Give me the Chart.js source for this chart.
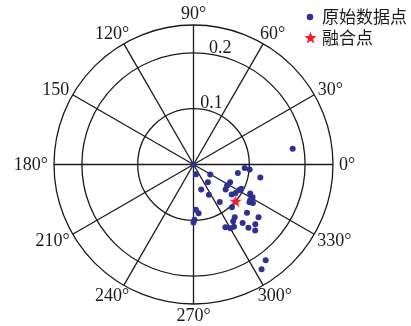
<!DOCTYPE html>
<html>
<head>
<meta charset="utf-8">
<script src="https://cdn.jsdelivr.net/npm/chart.js@4.4.1/dist/chart.umd.min.js"></script>
<style>
  body { margin: 0; background: #fff; }
  canvas { display: block; }
</style>
</head>
<body>
<canvas id="canvas" width="411" height="326"></canvas>
<script>
// polar data: radius and angle (degrees)
const rawRadius = [0.180, 0.000, 0.018, 0.035, 0.041, 0.047, 0.061, 0.082, 0.092, 0.101,
  0.081, 0.122, 0.073, 0.071, 0.073, 0.087, 0.091, 0.094, 0.096, 0.114,
  0.121, 0.121, 0.127, 0.103, 0.129, 0.150, 0.120, 0.124, 0.137, 0.154,
  0.133, 0.126, 0.132, 0.150, 0.162, 0.081, 0.088, 0.099, 0.104, 0.215,
  0.224, 0.120];
const rawAngle = [9, 0, 284, 329, 309, 287, 297, 305, 356, 355,
  349, 349, 334, 328, 322, 322, 326, 331, 333, 333,
  331, 326, 327, 312, 318, 321, 308, 305, 310, 316,
  303, 297, 300, 311, 313, 273, 276, 271, 270, 307,
  303, 328];
const fusedRadius = [0.100];
const fusedAngle = [319];

const seriesNames = ['原始数据点', '融合点'];
const angleTicks = [0, 30, 60, 90, 120, 150, 180, 210, 240, 270, 300, 330];
const angleLabels = ['0°', '30°', '60°', '90°', '120°', '150', '180°', '210°', '240°', '270°', '300°', '330°'];
const ringTicks = [0.1, 0.2];
const ringLabels = ['0.1', '0.2'];
const rMax = 0.25;

const blue = '#2e3192';
const red = '#ee1c25';

function toXY(r, a) {
  return r.map((v, i) => ({
    x: v * Math.cos(a[i] * Math.PI / 180),
    y: v * Math.sin(a[i] * Math.PI / 180)
  }));
}

// filled five point star as point style
function makeStar(size, color) {
  const c = document.createElement('canvas');
  c.width = size; c.height = size;
  const g = c.getContext('2d');
  const cx = size / 2, cy = size / 2 + size * 0.05;
  const ro = size / 2, ri = ro * 0.4;
  g.beginPath();
  for (let i = 0; i < 10; i++) {
    const rr = i % 2 === 0 ? ro : ri;
    const t = -Math.PI / 2 + i * Math.PI / 5;
    g.lineTo(cx + rr * Math.cos(t), cy + rr * Math.sin(t));
  }
  g.closePath();
  g.fillStyle = color;
  g.fill();
  return c;
}
const star = makeStar(13, red);

const polarGrid = {
  id: 'polarGrid',
  beforeDatasetsDraw(chart) {
    const { ctx, scales: { x, y } } = chart;
    const cx = x.getPixelForValue(0), cy = y.getPixelForValue(0);
    const unit = x.getPixelForValue(1) - cx;
    ctx.save();
    ctx.strokeStyle = '#1a1a1a';
    ctx.lineWidth = 1.3;
    [...ringTicks, rMax].forEach(r => {
      ctx.beginPath();
      ctx.arc(cx, cy, r * unit, 0, Math.PI * 2);
      ctx.stroke();
    });
    angleTicks.forEach(a => {
      const t = a * Math.PI / 180;
      ctx.beginPath();
      ctx.moveTo(cx, cy);
      ctx.lineTo(x.getPixelForValue(rMax * Math.cos(t)), y.getPixelForValue(rMax * Math.sin(t)));
      ctx.stroke();
    });
    ctx.fillStyle = '#1a1a1a';
    ctx.font = '18px "Liberation Serif", "Times New Roman", serif';
    ctx.textAlign = 'center';
    ctx.textBaseline = 'middle';
    angleTicks.forEach((a, i) => {
      const t = a * Math.PI / 180;
      const d = rMax * unit + 5;
      const w = ctx.measureText(angleLabels[i]).width;
      const lx = cx + d * Math.cos(t) + (w / 2 + 1) * Math.cos(t);
      const ly = cy - d * Math.sin(t) - 6.5 * Math.sin(t) + 1;
      ctx.fillText(angleLabels[i], lx, ly);
    });
    ctx.textAlign = 'left';
    ctx.textBaseline = 'alphabetic';
    ringTicks.forEach((r, i) => {
      const t = 81 * Math.PI / 180;
      ctx.fillText(ringLabels[i], cx + r * unit * Math.cos(t) - 2, cy - r * unit * Math.sin(t) - 1);
    });
    ctx.restore();
  },
  afterDraw(chart) {
    const { ctx } = chart;
    ctx.save();
    ctx.font = '17px "Noto Sans CJK SC", sans-serif';
    ctx.textBaseline = 'middle';
    ctx.textAlign = 'left';
    ctx.beginPath();
    ctx.arc(310, 17, 3.3, 0, Math.PI * 2);
    ctx.fillStyle = blue;
    ctx.fill();
    ctx.drawImage(star, 304, 31);
    ctx.fillStyle = '#1a1a1a';
    ctx.fillText(seriesNames[0], 322, 17);
    ctx.fillText(seriesNames[1], 322, 38);
    ctx.restore();
  }
};

const ctx = document.getElementById('canvas').getContext('2d');

new Chart(ctx, {
  type: 'scatter',
  data: {
    datasets: [{
      label: seriesNames[0],
      data: toXY(rawRadius, rawAngle),
      backgroundColor: blue,
      borderColor: blue,
      pointRadius: 3,
      borderWidth: 0
    }, {
      label: seriesNames[1],
      data: toXY(fusedRadius, fusedAngle),
      pointStyle: star,
      backgroundColor: red,
      borderColor: red
    }]
  },
  options: {
    responsive: false,
    animation: false,
    clip: false,
    layout: { padding: { left: 54, right: 78, top: 25, bottom: 22 } },
    scales: {
      x: { type: 'linear', min: -rMax, max: rMax, display: false },
      y: { type: 'linear', min: -rMax, max: rMax, display: false }
    },
    plugins: {
      legend: { display: false },
      tooltip: { enabled: false }
    }
  },
  plugins: [polarGrid]
});
</script>
</body>
</html>
